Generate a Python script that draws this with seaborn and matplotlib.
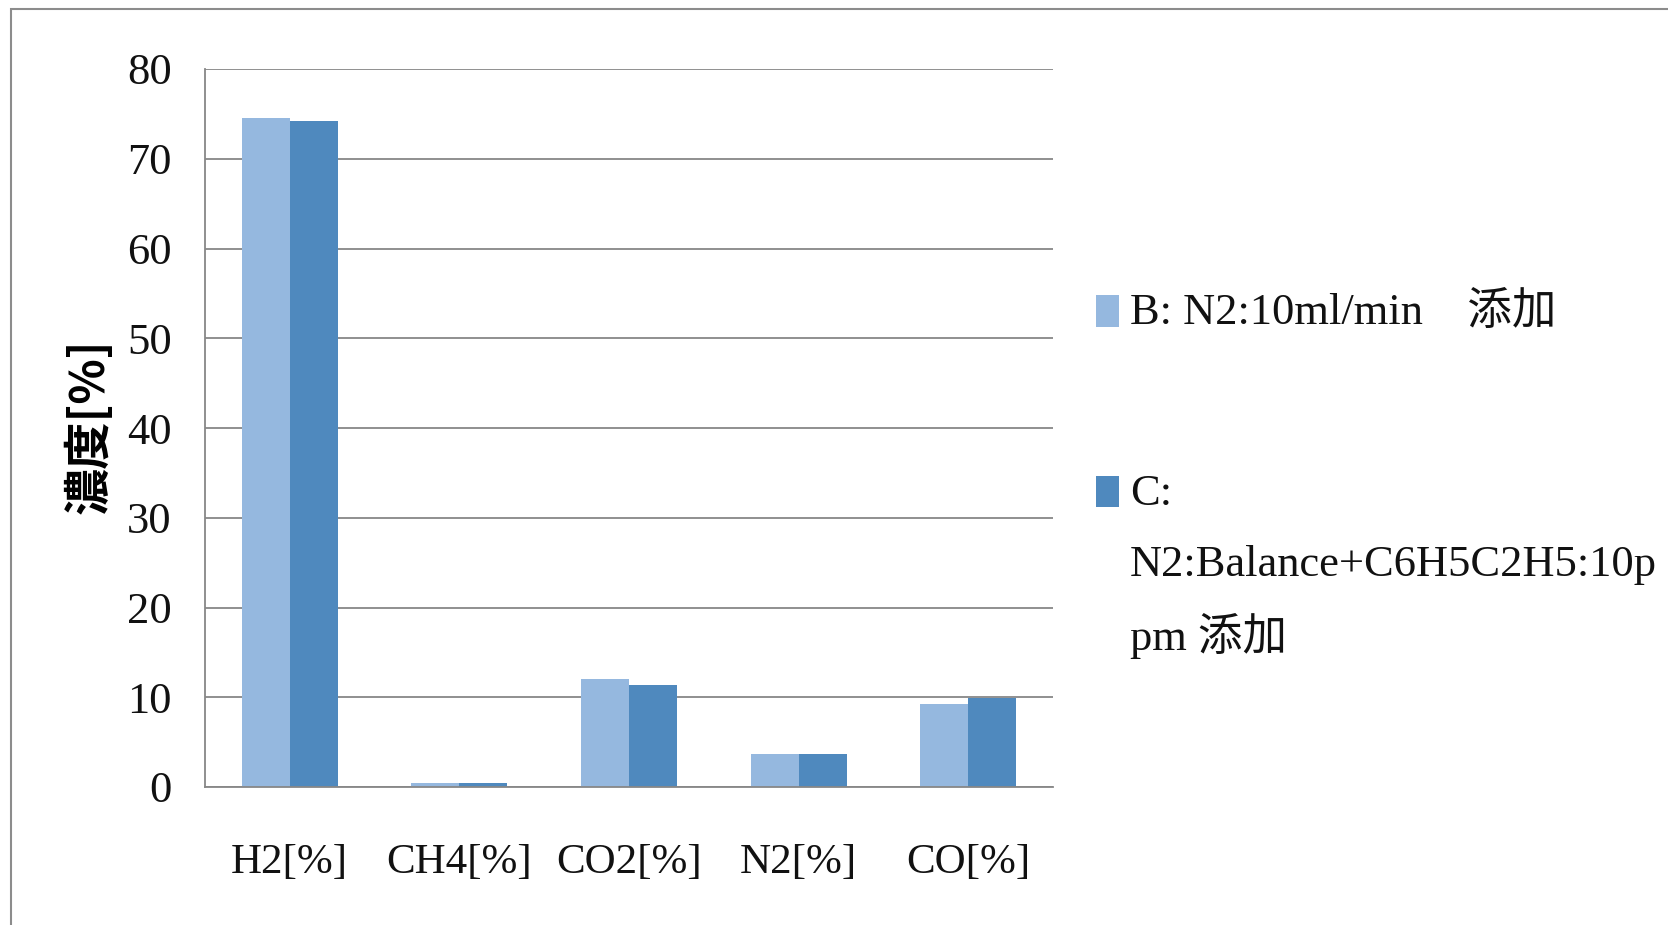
import matplotlib
matplotlib.use("Agg")
import matplotlib.pyplot as plt
from matplotlib.patches import Rectangle
import pandas as pd
import seaborn as sns

# Gas composition per component for the two feed conditions
categories = ["H2[%]", "CH4[%]", "CO2[%]", "N2[%]", "CO[%]"]
series_names = ["B: N2:10ml/min\u3000添加", "C:\nN2:Balance+C6H5C2H5:10p\npm 添加"]
values_b = [74.5, 0.4, 12.0, 3.7, 9.3]
values_c = [74.2, 0.4, 11.4, 3.7, 9.9]
colors = ["#95B8DF", "#4F89BE"]
y_ticks = [0, 10, 20, 30, 40, 50, 60, 70, 80]
y_label = "濃度[%]"

sns.set_theme(style="white")
serif = ["Liberation Serif", "Noto Sans CJK JP"]
plt.rcParams["font.family"] = serif

df = pd.DataFrame({
    "category": categories * 2,
    "series": [series_names[0]] * len(categories) + [series_names[1]] * len(categories),
    "value": values_b + values_c,
})

W, H = 1668, 925
fig = plt.figure(figsize=(W / 100, H / 100), dpi=100)
ax = fig.add_axes([205 / W, 1 - 787 / H, 848 / W, 718 / H])

sns.barplot(data=df, x="category", y="value", hue="series", order=categories,
            hue_order=series_names, palette=colors, width=0.565, saturation=1,
            errorbar=None, linewidth=0, legend=False, ax=ax)

grid_c = "#878787"
ax.set_ylim(0, 80)
ax.set_yticks(y_ticks)
ax.yaxis.grid(True, color=grid_c, linewidth=1.3)
ax.xaxis.grid(False)
ax.set_axisbelow(True)
for side in ("top", "right"):
    ax.spines[side].set_visible(False)
for side in ("left", "bottom"):
    ax.spines[side].set_color(grid_c)
    ax.spines[side].set_linewidth(1.3)

ax.tick_params(axis="y", length=0, labelsize=32, pad=24, labelcolor="#111111")
ax.tick_params(axis="x", length=0, labelsize=31, pad=41, labelcolor="#111111")
ax.set_xlabel("")
ax.set_ylabel(y_label, family=["Noto Sans CJK JP"], fontweight="bold", fontsize=34,
              color="black")
ax.yaxis.set_label_coords(-0.108, 0.503)

# Outer chart-area frame
fig.add_artist(Rectangle((11 / W, -0.1), 1.2, 1.1 - 9 / H, transform=fig.transFigure,
                         fill=False, edgecolor="#8c8c8c", linewidth=1.5))

# Legend on the right, with wrapped entry text
patch_rows = [(295, 327), (476, 507)]
line_rows = [[312], [494, 565, 636]]
for color, name, (top, bottom), rows in zip(colors, series_names, patch_rows, line_rows):
    fig.add_artist(Rectangle((1096 / W, 1 - bottom / H), 23 / W, (bottom - top) / H,
                             transform=fig.transFigure, facecolor=color, edgecolor="none"))
    for line, yc in zip(name.split("\n"), rows):
        fig.text(1130 / W, 1 - yc / H, line, fontsize=32, va="center", ha="left",
                 color="#111111")

fig.savefig("out.png", dpi=100)
